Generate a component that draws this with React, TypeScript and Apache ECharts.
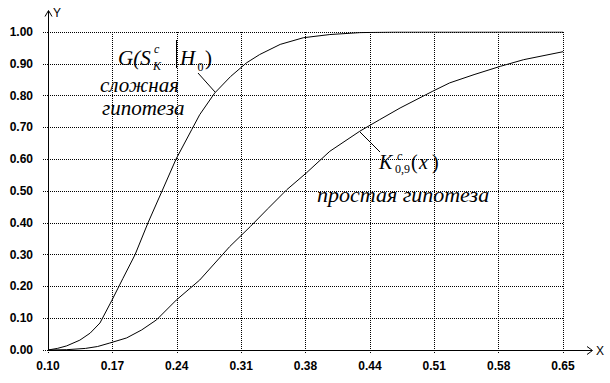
import React, { useEffect, useRef } from "react";
import * as echarts from "echarts";

// X axis: 8 equal steps from 0.10 to 0.65, labels as printed
const xTickLabels = ["0.10", "0.17", "0.24", "0.31", "0.38", "0.44", "0.51", "0.58", "0.65"];
const X_MIN = 0.1;
const X_MAX = 0.65;
const X_STEPS = 8;

// Composite hypothesis curve G(S_K^c | H0)
const gX = [0.10, 0.11, 0.12, 0.134, 0.145, 0.1555, 0.168, 0.18, 0.193, 0.2068, 0.2218, 0.2367, 0.2535, 0.262, 0.278, 0.295, 0.312, 0.326, 0.348, 0.3727, 0.401, 0.433, 0.47, 0.51, 0.55, 0.60, 0.65];
const gY = [0, 0.005, 0.013, 0.031, 0.053, 0.085, 0.155, 0.225, 0.30, 0.40, 0.50, 0.60, 0.693, 0.74, 0.808, 0.86, 0.903, 0.929, 0.961, 0.982, 0.992, 0.998, 1.0, 1.0, 1.0, 1.0, 1.0];

// Simple hypothesis curve K_{0,9}^c(x)
const kX = [0.10, 0.12, 0.14, 0.153, 0.166, 0.184, 0.20, 0.216, 0.237, 0.262, 0.294, 0.316, 0.335, 0.355, 0.376, 0.401, 0.433, 0.454, 0.476, 0.511, 0.529, 0.555, 0.583, 0.608, 0.65];
const kY = [0, 0.001, 0.005, 0.011, 0.022, 0.038, 0.063, 0.095, 0.157, 0.22, 0.325, 0.388, 0.445, 0.504, 0.557, 0.625, 0.688, 0.724, 0.761, 0.814, 0.84, 0.866, 0.892, 0.913, 0.938];

const toAxis = (x: number) => ((x - X_MIN) / (X_MAX - X_MIN)) * X_STEPS;

const dotted = { color: "#000", width: 1, type: [1, 1] as any };
const serif = '"Liberation Serif", "Times New Roman", serif';

function txt(text: string, x: number, y: number, size: number, italic: boolean, extra: any = {}) {
  return {
    type: "text",
    x,
    y,
    silent: true,
    style: {
      text,
      font: `${italic ? "italic " : ""}${size}px ${serif}`,
      fill: "#000",
      align: "left",
      verticalAlign: "middle",
      ...extra,
    },
  };
}

export default function App() {
  const ref = useRef<HTMLDivElement>(null);
  useEffect(() => {
    if (!ref.current) return;
    const chart = echarts.init(ref.current, undefined, { renderer: "svg" });
    const lineStyle = { stroke: "#000", lineWidth: 1 };
    chart.setOption({
      animation: false,
      backgroundColor: "#fff",
      grid: { left: 48, right: 47, top: 32, bottom: 33 },
      xAxis: {
        type: "value",
        min: 0,
        max: X_STEPS,
        interval: 1,
        axisLine: { show: true, lineStyle: { color: "#000", width: 1 } },
        axisTick: { show: true, length: 3, lineStyle: dotted },
        splitLine: { show: true, lineStyle: dotted },
        axisLabel: {
          margin: 10,
          color: "#000",
          fontFamily: "'Liberation Sans', Arial, sans-serif",
          fontWeight: "bold",
          fontSize: 12,
          formatter: (v: number) => xTickLabels[Math.round(v)] ?? "",
        },
      },
      yAxis: {
        type: "value",
        min: 0,
        max: 1,
        interval: 0.1,
        axisLine: { show: true, lineStyle: { color: "#000", width: 1 } },
        axisTick: { show: true, length: 5, lineStyle: dotted },
        splitLine: { show: true, lineStyle: dotted },
        axisLabel: {
          margin: 15,
          color: "#000",
          fontFamily: "'Liberation Sans', Arial, sans-serif",
          fontWeight: "bold",
          fontSize: 12,
          formatter: (v: number) => v.toFixed(2),
        },
      },
      series: [
        {
          type: "line",
          name: "G",
          showSymbol: false,
          smooth: false,
          lineStyle: { color: "#000", width: 1 },
          data: gX.map((x, i) => [toAxis(x), gY[i]]),
        },
        {
          type: "line",
          name: "K",
          showSymbol: false,
          smooth: false,
          lineStyle: { color: "#000", width: 1 },
          data: kX.map((x, i) => [toAxis(x), kY[i]]),
        },
      ],
      graphic: [
        // axis extensions and arrows
        { type: "line", silent: true, shape: { x1: 563, y1: 350.5, x2: 592, y2: 350.5 }, style: lineStyle },
        { type: "polyline", silent: true, shape: { points: [[587, 346.5], [592.5, 350.5], [587, 354.5]] }, style: { ...lineStyle, fill: "none" } },
        { type: "text", silent: true, x: 596, y: 351, style: { text: "X", font: "12px 'Liberation Sans', Arial, sans-serif", fill: "#000", verticalAlign: "middle" } },
        { type: "line", silent: true, shape: { x1: 48.5, y1: 32, x2: 48.5, y2: 11 }, style: lineStyle },
        { type: "polyline", silent: true, shape: { points: [[45, 16.5], [48.5, 10.5], [52, 16.5]] }, style: { ...lineStyle, fill: "none" } },
        { type: "text", silent: true, x: 53, y: 13, style: { text: "Y", font: "12px 'Liberation Sans', Arial, sans-serif", fill: "#000", verticalAlign: "middle" } },

        // G(S_K^c | H_0) label
        txt("G(S", 118, 58, 21, true),
        txt("c", 154, 48.5, 12, true),
        txt("K", 153, 66, 12, true),
        { type: "line", silent: true, shape: { x1: 176.5, y1: 40, x2: 176.5, y2: 68 }, style: lineStyle },
        txt("H", 180, 58, 21, true),
        txt("0", 197.5, 66.5, 12, false),
        txt(")", 205, 58, 21, false),
        { type: "line", silent: true, shape: { x1: 198, y1: 73, x2: 215, y2: 92 }, style: lineStyle },
        txt("сложная", 100, 85, 21, true),
        txt("гипотеза", 102, 108, 21, true),

        // K_{0,9}^c(x) label
        txt("K", 379, 162, 20, true),
        txt("c", 397, 155.5, 12, true),
        txt("0,9", 395, 169, 12, false),
        txt("(", 411, 162, 20, false),
        txt("x", 419, 162, 20, true),
        txt(")", 432, 162, 20, false),
        { type: "line", silent: true, shape: { x1: 360, y1: 132, x2: 380, y2: 152 }, style: lineStyle },
        txt("простая гипотеза", 317, 194.5, 22, true),
      ],
    });
    return () => chart.dispose();
  }, []);
  return (
    <div
      ref={ref}
      style={{ position: "absolute", left: 0, top: 0, width: 610, height: 383, background: "#fff" }}
    />
  );
}
